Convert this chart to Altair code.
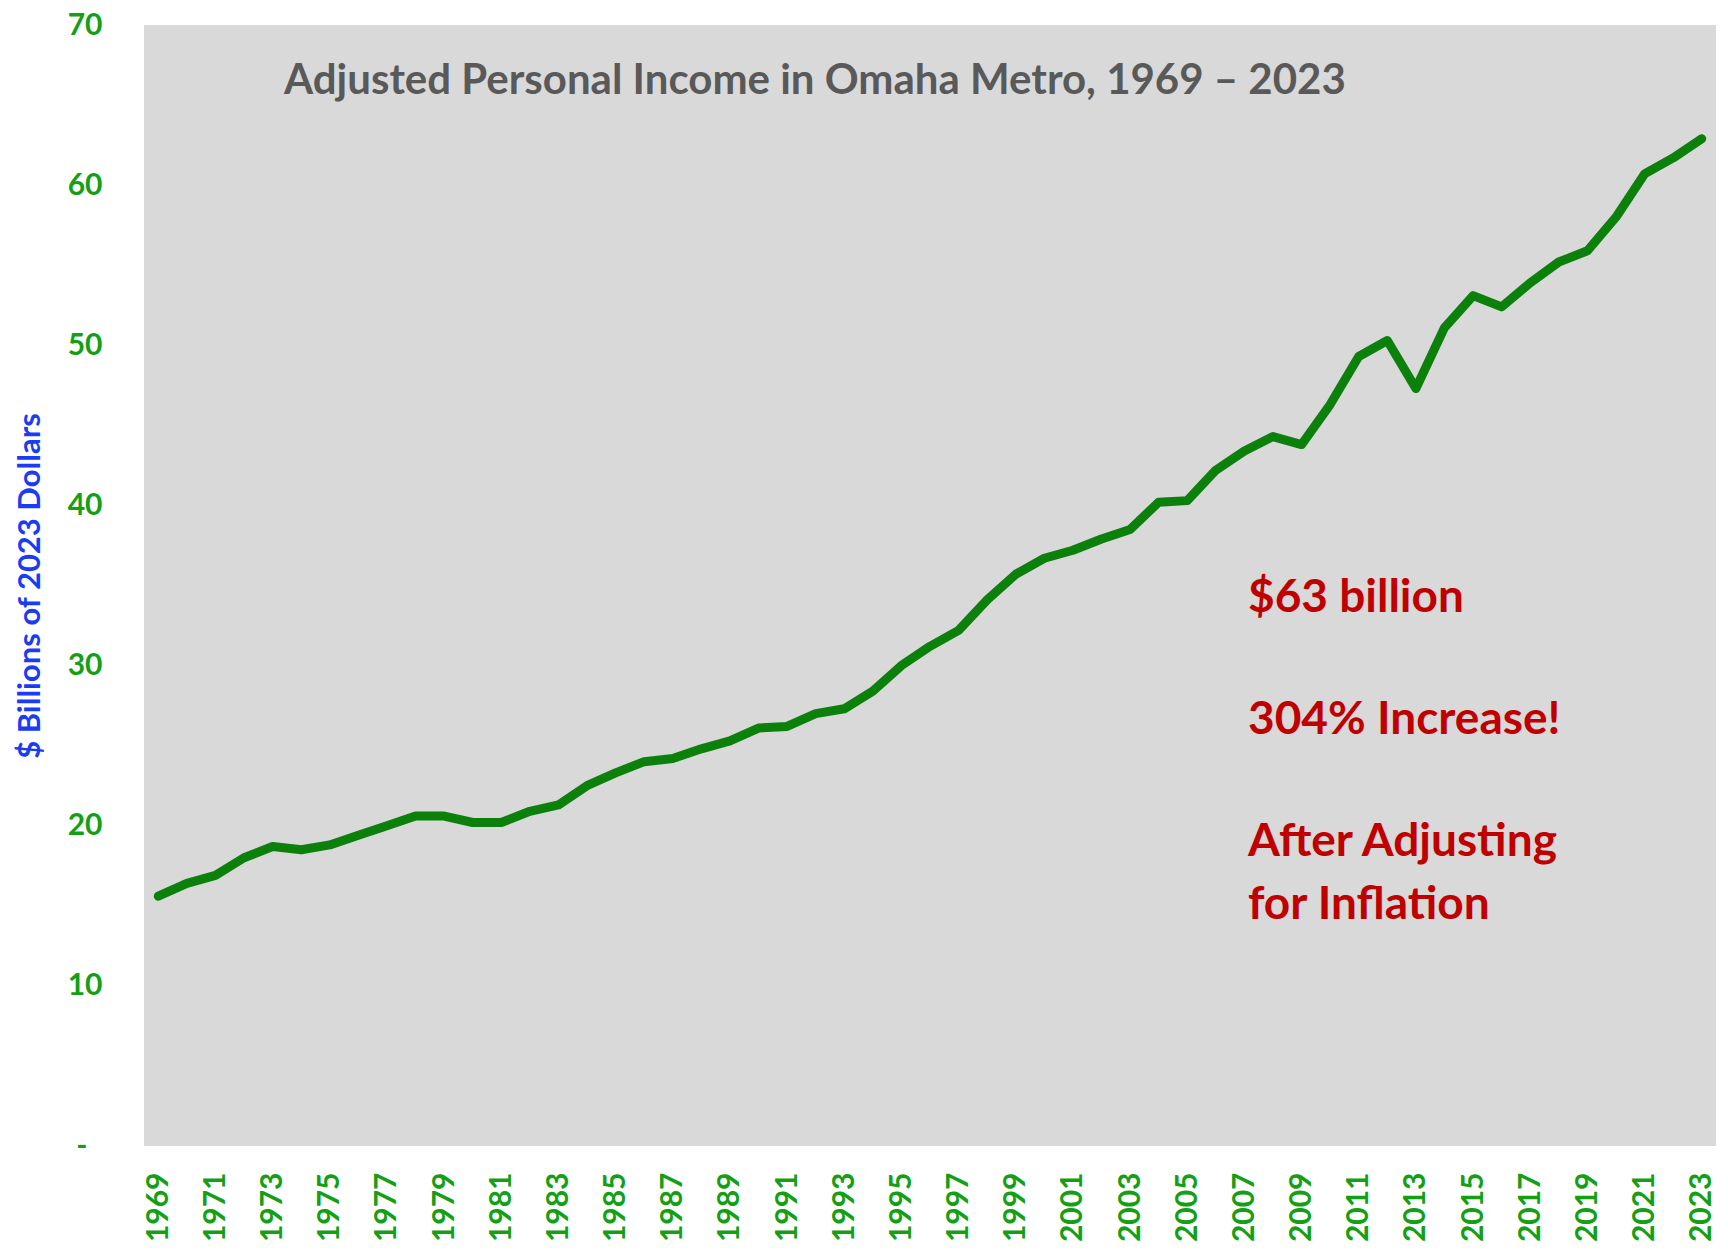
import altair as alt
import pandas as pd

years = list(range(1969, 2024))
values = [15.6, 16.4, 16.9, 18.0, 18.7, 18.5, 18.8, 19.4, 20.0, 20.6,
          20.6, 20.2, 20.2, 20.9, 21.3, 22.5, 23.3, 24.0, 24.2, 24.8,
          25.3, 26.1, 26.2, 27.0, 27.3, 28.4, 30.0, 31.2, 32.2, 34.1,
          35.7, 36.7, 37.2, 37.9, 38.5, 40.2, 40.3, 42.2, 43.4, 44.3,
          43.8, 46.3, 49.3, 50.3, 47.3, 51.1, 53.1, 52.4, 53.9, 55.2,
          55.9, 58.0, 60.7, 61.7, 62.9]
x_tick_labels = [y for y in years if y % 2 == 1]
y_ticks = [0, 10, 20, 30, 40, 50, 60, 70]
chart_title = "Adjusted Personal Income in Omaha Metro, 1969 \u2013 2023"
note_1 = "$63 billion"
note_2 = "304% Increase!"
note_3 = ["After Adjusting", "for Inflation"]
y_title = "$ Billions of 2023 Dollars"

FONT = "Lato"
GREEN_LABEL = "#14A014"
LINE_GREEN = "#0B800B"
RED = "#C00000"

df = pd.DataFrame({"year": years, "value": values})

line = alt.Chart(df).mark_line(
    color=LINE_GREEN, strokeWidth=9, strokeCap="round", strokeJoin="round"
).encode(
    x=alt.X("year:Q",
            scale=alt.Scale(domain=[1968.5, 2023.5], nice=False, zero=False),
            axis=alt.Axis(values=x_tick_labels, format="d", labelAngle=270,
                          labelFont=FONT, labelFontSize=30, labelFontWeight="bold",
                          labelColor=GREEN_LABEL, ticks=False, domain=False,
                          grid=False, labelPadding=26, title=None,
                          labelOverlap=False, labelFlush=False)),
    y=alt.Y("value:Q",
            scale=alt.Scale(domain=[0, 70], nice=False),
            axis=alt.Axis(values=y_ticks,
                          labelExpr="datum.value == 0 ? '-' : datum.label",
                          labelFont=FONT, labelFontSize=30, labelFontWeight="bold",
                          labelColor=GREEN_LABEL, ticks=False, domain=False,
                          grid=False,
                          labelPadding={"condition": {"test": "datum.value == 0", "value": 57}, "value": 42},
                          labelOverlap=False, labelFlush=False,
                          title=y_title, titleFont=FONT, titleFontSize=31,
                          titleFontWeight="bold", titleColor="#1A3CF5",
                          titleX=-114, titleBaseline="middle")),
)

one = pd.DataFrame({"k": [0]})

title_layer = alt.Chart(one).mark_text(
    text=chart_title, align="left", baseline="alphabetic", font=FONT, fontSize=42,
    fontWeight="bold", color="#595959"
).encode(x=alt.value(140), y=alt.value(69))

def note(txt, ypix):
    return alt.Chart(one).mark_text(
        text=txt, align="left", baseline="alphabetic", font=FONT,
        fontSize=46, fontWeight="bold", color=RED, lineHeight=63
    ).encode(x=alt.value(1104), y=alt.value(ypix))

chart = alt.layer(line, title_layer, note(note_1, 587), note(note_2, 709),
                  note(note_3, 831)).properties(
    width=1572, height=1121,
    autosize=alt.AutoSizeParams(type="none"),
    padding={"left": 136, "top": 17, "right": 4, "bottom": 100},
    background="white",
).configure_view(fill="#D9D9D9", strokeWidth=0)

chart.save("out.html", embed_options={"renderer": "svg", "actions": False})
